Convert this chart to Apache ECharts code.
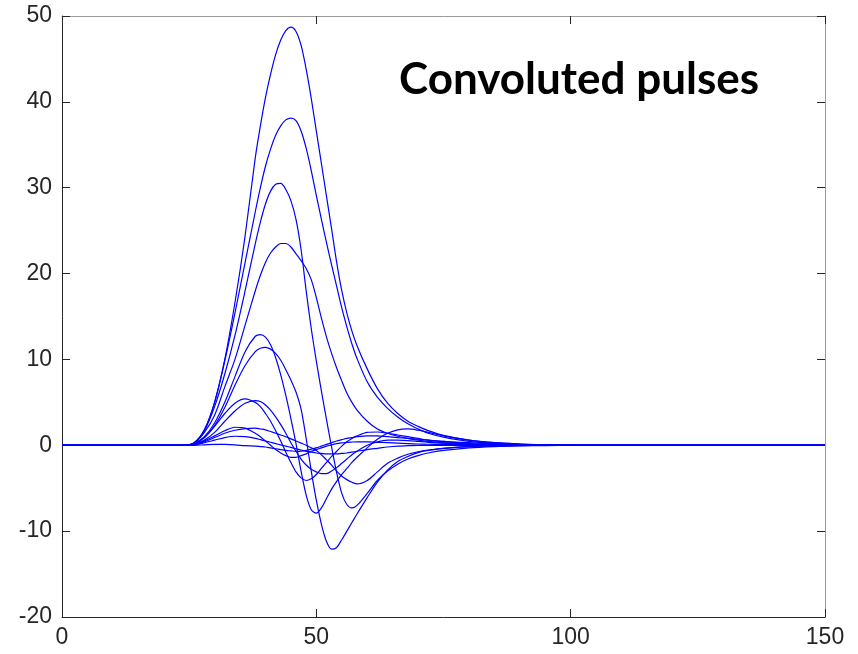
<!DOCTYPE html>
<html>
<head>
<meta charset="utf-8">
<script src="https://cdn.jsdelivr.net/npm/echarts@6/dist/echarts.min.js"></script>
<style>
html,body{margin:0;padding:0;background:#fff;}
#chart{width:858px;height:654px;}
</style>
</head>
<body>
<div id="chart"></div>
<script>
// shared x sample positions
const xs = [0,20,24,26,28,30,32,34,36,38,39,40,41,42,43,44,45,46,47,48,49,50,51,52,53,54,55,56,57,58,60,62,64,66,68,70,72,75,80,85,90,95,100,110,150];

// pulse values at each x in xs
const pulseA = [0,0,0,0.3,1.8,5.0,10,16.6,24.4,33.5, 37.2,40.5,43.2,45.5,47.2,48.3,48.7,48.2,46.6,43.8, 40.4,36.6,32.8,29,25.2,21.3,18,15.4,13.3,11.6, 8.9,6.6,4.9,3.7,2.8,2.2,1.7,1.15,0.6,0.3, 0.15,0.07,0.03,0,0];
const pulseB = [0,0,0,0.3,1.8,5,9.8,15.4,21.3,27.2, 30,32.5,34.5,36.1,37.2,37.9,38.1,37.8,36.6,34.6, 32,29.1,26.3,23.6,21,18.5,16,13.8,11.8,10.1, 7.4,5.6,4.3,3.3,2.5,1.9,1.4,0.95,0.45,0.22, 0.1,0.05,0.02,0,0];
const pulseC = [0,0,0,0.3,1.7,4.5,8.3,12.8,18,23.5, 26,28.1,29.6,30.4,30.5,29.8,28.5,26.3,22.8,18, 13.6,9.8,6.3,3.0,-0.2,-3.2,-5.6,-6.9,-7.3,-7.0, -5.6,-4.1,-3.0,-2.2,-1.6,-1.2,-0.9,-0.6,-0.3,-0.15, -0.07,-0.03,0,0,0];
const pulseD = [0,0,0,0.25,1.5,3.5,6.8,10,14,18, 19.8,21.3,22.4,23.1,23.5,23.5,23.1,22.3,21.5,20.6, 19.3,17.2,14.8,12.6,10.7,9.0,7.5,6.1,5.0,4.1, 2.8,1.9,1.4,1.05,0.8,0.6,0.45,0.3,0.15,0.08, 0.03,0,0,0,0];
const pulseE = [0,0,0,0.2,1,2.6,5,8,10.9,12.7, 12.9,12.6,11.7,10.2,8.2,5.8,3.1,0.2,-3.0,-5.8, -7.5,-7.9,-7.3,-6.2,-5.1,-4.2,-3.4,-2.7,-2.0,-1.4, -0.3,0.7,1.4,1.8,1.9,1.75,1.5,1.1,0.6,0.3, 0.15,0.05,0,0,0];
const pulseF = [0,0,0,0.2,0.9,2.3,4.4,7,9.3,10.9, 11.3,11.4,11.2,10.7,9.9,8.8,7.6,6.2,4.2,0.8, -3.0,-6.4,-9.2,-11.2,-12.1,-11.9,-11.0,-10.0,-9.0,-8.0, -6.1,-4.3,-2.9,-1.9,-1.3,-0.85,-0.6,-0.35,-0.15,-0.07, -0.03,0,0,0,0];
const pulseG = [0,0,0,0.2,0.9,2.2,3.7,4.9,5.4,5.0, 4.5,3.7,2.8,1.7,0.5,-0.8,-2.0,-3.1,-3.8,-4.1, -3.9,-3.4,-2.7,-2.0,-1.3,-0.7,-0.1,0.4,0.8,1.1, 1.5,1.55,1.4,1.2,1.0,0.8,0.6,0.45,0.2,0.1, 0.05,0,0,0,0];
const pulseH = [0,0,0,0.15,0.6,1.5,2.8,4.0,4.9,5.2, 5.1,4.7,4.1,3.3,2.4,1.4,0.3,-0.7,-1.6,-2.3, -2.8,-3.1,-3.3,-3.3,-3.0,-2.6,-2.1,-1.6,-1.1,-0.7, 0,0.4,0.6,0.6,0.55,0.45,0.35,0.25,0.1,0.05, 0,0,0,0,0];
const pulseI = [0,0,0,0.1,0.5,1.1,1.7,2.1,2.0,1.4, 1.0,0.5,0,-0.5,-0.9,-1.2,-1.4,-1.4,-1.2,-1.0, -0.7,-0.5,-0.3,-0.1,0.05,0.2,0.28,0.35,0.38,0.4, 0.4,0.35,0.3,0.25,0.2,0.15,0.12,0.1,0.05,0, 0,0,0,0,0];
const pulseJ = [0,0,0,0.1,0.4,0.9,1.4,1.75,1.95,2.0, 1.9,1.8,1.6,1.4,1.2,1.0,0.75,0.5,0.25,0, -0.3,-0.6,-1.1,-1.7,-2.3,-3.0,-3.6,-4.0,-4.3,-4.5, -4.1,-3.1,-2.1,-1.5,-1.05,-0.75,-0.55,-0.35,-0.15,-0.05, 0,0,0,0,0];
const pulseK = [0,0,0,0.05,0.3,0.6,0.9,1.05,1.0,0.8, 0.65,0.5,0.35,0.2,0.05,-0.1,-0.25,-0.4,-0.55,-0.7, -0.8,-0.9,-0.95,-1.0,-1.0,-1.0,-0.95,-0.9,-0.8,-0.7, -0.5,-0.35,-0.2,-0.1,-0.05,0,0,0,0,0, 0,0,0,0,0];
const pulseL = [0,0,0,0,0.05,0.1,0.1,0.05,-0.05,-0.1, -0.15,-0.2,-0.3,-0.4,-0.5,-0.6,-0.65,-0.7,-0.68,-0.6, -0.45,-0.3,-0.1,0.1,0.3,0.5,0.65,0.8,0.9,1.0, 1.1,1.1,1.0,0.9,0.8,0.7,0.6,0.45,0.3,0.15, 0.08,0.03,0,0,0];

const pulses = [pulseA,pulseB,pulseC,pulseD,pulseE,pulseF,pulseG,pulseH,pulseI,pulseJ,pulseK,pulseL];

const xTicks = [0,50,100,150];
const yTicks = [-20,-10,0,10,20,30,40,50];
const titleText = 'Convoluted pulses';

const chart = echarts.init(document.getElementById('chart'), null, {renderer:'canvas'});
const axisCol = '#262626';
const labelStyle = {color: axisCol, fontFamily: 'Liberation Sans, Arial, sans-serif', fontSize: 23};

const series = pulses.map(p => ({
  type: 'line',
  data: xs.map((x, i) => [x, p[i]]),
  showSymbol: false,
  smooth: 0.3,
  lineStyle: {color: '#0000ff', width: 1.2},
  itemStyle: {color: '#0000ff'},
  silent: true,
  animation: false,
  z: 3
}));

chart.setOption({
  animation: false,
  backgroundColor: '#ffffff',
  grid: {left: 62, right: 33, top: 16, bottom: 37, containLabel: false},
  graphic: [{
    type: 'text',
    left: 399,
    top: 58,
    style: {
      text: titleText,
      fill: '#000000',
      font: 'bold 44px Lato, "Open Sans", sans-serif'
    },
    z: 10
  }],
  xAxis: [{
    type: 'value', min: 0, max: 150, interval: 50,
    axisLine: {show: true, onZero: false, lineStyle: {color: axisCol, width: 1}},
    axisTick: {show: true, inside: true, length: 8, lineStyle: {color: axisCol}},
    axisLabel: Object.assign({margin: 9, formatter: v => xTicks.includes(v) ? String(v) : ''}, labelStyle),
    splitLine: {show: false}
  }, {
    type: 'value', min: 0, max: 150, interval: 50, position: 'top',
    axisLine: {show: true, onZero: false, lineStyle: {color: '#9a9a9a', width: 1}},
    axisTick: {show: true, inside: true, length: 8, lineStyle: {color: axisCol}},
    axisLabel: {show: false},
    splitLine: {show: false}
  }],
  yAxis: [{
    type: 'value', min: -20, max: 50, interval: 10,
    axisLine: {show: true, onZero: false, lineStyle: {color: axisCol, width: 1}},
    axisTick: {show: true, inside: true, length: 8, lineStyle: {color: axisCol}},
    axisLabel: Object.assign({margin: 10, formatter: v => yTicks.includes(v) ? String(v) : ''}, labelStyle),
    splitLine: {show: false}
  }, {
    type: 'value', min: -20, max: 50, interval: 10, position: 'right',
    axisLine: {show: true, onZero: false, lineStyle: {color: '#9a9a9a', width: 1}},
    axisTick: {show: true, inside: true, length: 8, lineStyle: {color: axisCol}},
    axisLabel: {show: false},
    splitLine: {show: false}
  }],
  series: series
});
</script>
</body>
</html>
